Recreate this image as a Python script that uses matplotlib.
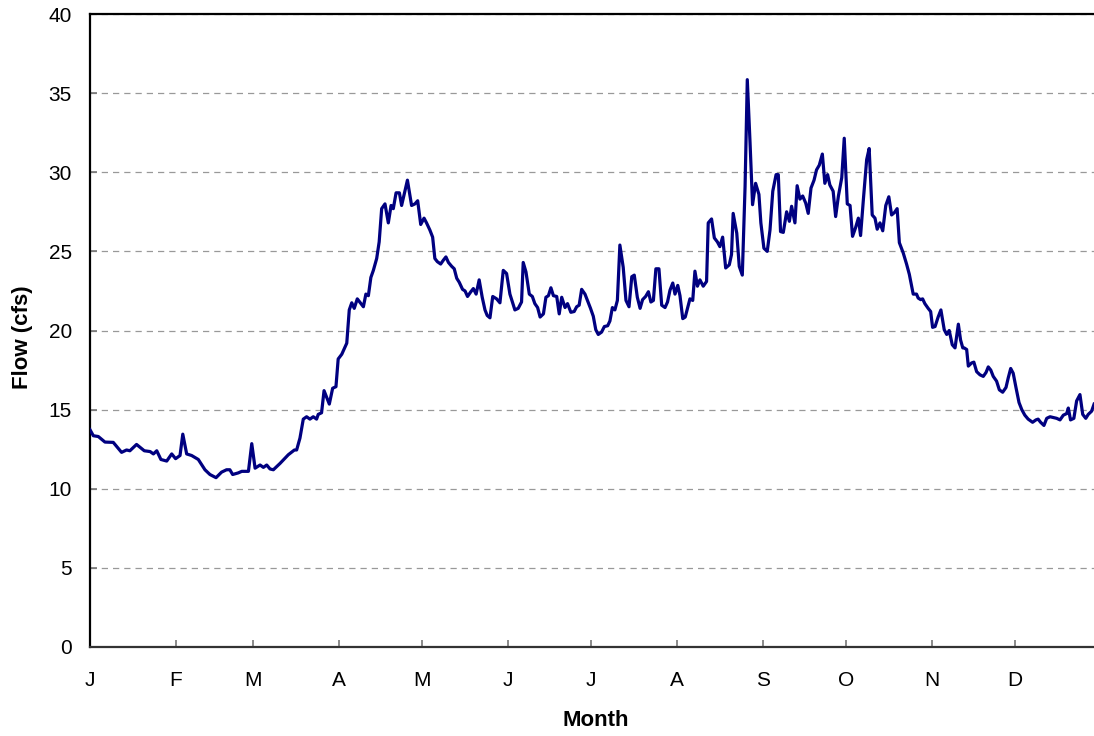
import matplotlib
matplotlib.use("Agg")
import matplotlib.pyplot as plt

# month ticks (day of year where each month starts)
month_start = [0, 31, 59, 90, 120, 151, 181, 212, 243, 273, 304, 334]
month_labels = ["J", "F", "M", "A", "M", "J", "J", "A", "S", "O", "N", "D"]

# daily flow, Jan - Mar
day_q1 = [0, 1.2, 3.0, 5.4, 8.4, 11.4, 13.2, 14.4, 16.8, 19.6, 21.7, 22.9, 24.1, 25.6, 27.7,
          29.5, 30.9, 32.5, 33.5, 34.9, 36.7, 39.1, 41.5, 43.3, 45.5, 47.5, 49.3, 50.5, 51.5,
          53.5, 54.8, 57.2, 58.4, 59.6, 61.4, 62.6, 63.8, 65, 66.2, 68.6, 71.6, 73.8, 74.6, 75.8]
flow_q1 = [13.73, 13.35, 13.3, 12.95, 12.93, 12.3, 12.45, 12.4, 12.8, 12.4, 12.35, 12.2, 12.4, 11.85, 11.75,
           12.2, 11.9, 12.1, 13.45, 12.2, 12.1, 11.85, 11.2, 10.9, 10.7, 11.05, 11.2, 11.2, 10.9,
           11.0, 11.1, 11.1, 12.85, 11.3, 11.5, 11.35, 11.5, 11.25, 11.2, 11.6, 12.15, 12.45, 12.45, 13.2]

# Mar - May
day_q2 = [77.0, 78.2, 79.4, 80.6, 81.8, 82.4, 83.6, 84.5, 86.4, 87.6, 88.8, 89.6, 90.9, 92.7, 93.6,
          94.5, 95.4, 96.5, 98.7, 99.6, 100.5, 101.4, 102.3, 103.5, 104.4, 105.3, 106.5, 107.7, 108.7,
          109.5, 110.5, 111.7, 112.5, 114.6, 116.1, 117.3, 118.3, 119.4, 120.6, 121.5, 122.7, 123.7,
          124.5, 125.4, 126.6, 127.6, 128.5, 129.4, 130.6, 131.5, 132.4, 133.3, 134.5, 135.4, 136.3,
          137.5, 138.4, 139.4, 140.5, 141.6, 142.6, 143.4, 144.4, 145.4, 146.8]
flow_q2 = [14.4, 14.55, 14.4, 14.55, 14.4, 14.7, 14.8, 16.2, 15.35, 16.35, 16.45, 18.2, 18.5, 19.2, 21.3,
           21.75, 21.4, 22.0, 21.5, 22.3, 22.2, 23.35, 23.8, 24.55, 25.6, 27.7, 28.0, 26.8, 27.9,
           27.7, 28.7, 28.7, 27.9, 29.5, 27.9, 28.0, 28.2, 26.7, 27.1, 26.8, 26.35, 25.9,
           24.55, 24.35, 24.2, 24.45, 24.65, 24.3, 24.05, 23.9, 23.3, 23.05, 22.6, 22.5, 22.15,
           22.45, 22.65, 22.3, 23.2, 22.1, 21.3, 20.95, 20.8, 22.15, 22.0]

# May - Aug
day_q3 = [148.0, 149.2, 150.4, 151.6, 153.4, 154.6, 155.8, 156.4, 157.4, 158.6, 159.7, 160.6, 161.6,
          162.5, 163.7, 164.6, 165.5, 166.4, 167.3, 168.5, 169.4, 170.3, 171.5, 172.4, 173.6, 174.8,
          175.7, 176.6, 177.5, 178.7, 179.9, 180.7, 181.7, 182.6, 183.5, 184.7, 185.7, 186.9, 187.7,
          188.6, 189.5, 190.4, 191.3, 192.5, 193.5, 194.6, 195.6, 196.5, 197.6, 198.6, 199.5, 200.6,
          201.6, 202.5, 203.4, 204.3, 205.4, 206.4, 207.6, 208.5, 209.4, 210.4, 211.2, 212.2, 213.0,
          214.0, 214.9]
flow_q3 = [21.75, 23.8, 23.6, 22.3, 21.3, 21.4, 21.8, 24.3, 23.7, 22.3, 22.15, 21.7, 21.45,
           20.85, 21.05, 22.1, 22.2, 22.7, 22.2, 22.15, 21.05, 22.1, 21.45, 21.7, 21.15, 21.2,
           21.5, 21.6, 22.6, 22.3, 21.75, 21.4, 20.9, 20.05, 19.75, 19.9, 20.25, 20.3, 20.6,
           21.45, 21.3, 21.9, 25.4, 24.0, 21.9, 21.5, 23.4, 23.5, 22.1, 21.4, 21.95, 22.15,
           22.45, 21.8, 21.9, 23.9, 23.9, 21.6, 21.45, 21.8, 22.55, 23.0, 22.3, 22.85, 22.2,
           20.75, 20.85]

# Aug - Oct
day_q4 = [216.6, 217.6, 218.4, 219.3, 220.2, 221.4, 222.6, 223.2, 224.4, 225.4, 226.5, 227.4, 228.4,
          229.5, 230.8, 231.6, 232.2, 233.5, 234.4, 235.5, 236.5, 237.3, 238.3, 239.2, 240.3, 241.5,
          242.2, 243.3, 244.5, 245.5, 246.5, 247.7, 248.5, 249.3, 250.3, 251.5, 252.5, 253.3, 254.5,
          255.3, 256.3, 257.3, 258.4, 259.3, 260.3, 261.4, 262.3, 263.3, 264.4, 265.3, 266.3, 267.1,
          268.3, 269.2, 270.2, 271.4, 272.3, 273.4, 274.4, 275.3, 276.4, 277.4, 278.2, 279.2, 280.4,
          281.3, 282.4, 283.4, 284.2, 285.2, 286.2, 287.3, 288.4, 289.4, 290.4, 291.4, 292.2, 293.6]
flow_q4 = [22.0, 21.9, 23.75, 22.8, 23.2, 22.8, 23.1, 26.8, 27.05, 25.85, 25.6, 25.3, 25.9,
           23.95, 24.15, 24.8, 27.4, 26.15, 24.05, 23.5, 29.1, 35.85, 31.85, 27.95, 29.3, 28.6,
           26.8, 25.2, 25.0, 26.35, 28.8, 29.85, 29.85, 26.25, 26.2, 27.5, 26.9, 27.85, 26.8,
           29.15, 28.3, 28.5, 28.05, 27.4, 29.0, 29.5, 30.15, 30.45, 31.15, 29.3, 29.85, 29.2,
           28.8, 27.2, 28.5, 29.65, 32.15, 28.0, 27.9, 25.95, 26.5, 27.1, 26.0, 28.25, 30.8,
           31.5, 27.3, 27.1, 26.4, 26.8, 26.3, 27.9, 28.45, 27.3, 27.45, 27.7, 25.55, 24.9]

# Oct - Dec
day_q5 = [294.8, 295.8, 296.6, 297.2, 298.4, 299.0, 299.9, 300.6, 301.4, 302.6, 303.5, 304.2, 305.1,
          306.2, 307.2, 308.4, 309.3, 310.2, 311.3, 312.3, 313.5, 314.3, 315.1, 315.6, 316.5, 317.1,
          318.3, 319.1, 320.1, 321.3, 322.5, 323.5, 324.3, 325.2, 326.1, 327.3, 328.3, 329.5, 330.7,
          331.5, 332.4, 333.3, 334.3, 335.4, 336.4, 337.5, 338.7, 340.3, 341.5, 342.3, 343.2, 344.4,
          345.4, 346.6, 347.8, 349.0, 350.2, 351.4, 352.6, 353.2, 354.0, 355.2, 356.2, 357.4, 358.4,
          359.5, 360.4, 361.6, 362.5]
flow_q5 = [24.2, 23.55, 22.85, 22.3, 22.3, 22.05, 21.95, 22.0, 21.7, 21.4, 21.2, 20.2, 20.25,
           20.85, 21.3, 20.05, 19.75, 20.0, 19.1, 18.9, 20.4, 19.4, 18.9, 18.9, 18.8, 17.75,
           17.95, 18.0, 17.4, 17.2, 17.1, 17.35, 17.7, 17.5, 17.1, 16.8, 16.25, 16.1, 16.4,
           17.0, 17.6, 17.3, 16.4, 15.45, 15.0, 14.65, 14.4, 14.2, 14.35, 14.4, 14.2, 14.0,
           14.45, 14.55, 14.5, 14.45, 14.35, 14.65, 14.75, 15.1, 14.35, 14.45, 15.55, 15.95, 14.7,
           14.45, 14.7, 14.9, 15.35]

days = day_q1 + day_q2 + day_q3 + day_q4 + day_q5
flow = flow_q1 + flow_q2 + flow_q3 + flow_q4 + flow_q5

plt.rcParams['font.family'] = ['Liberation Sans', 'DejaVu Sans']

fig = plt.figure(figsize=(10.94, 7.36), dpi=100)
# axis runs a little past the right edge of the picture (cropped original)
ax = fig.add_axes([90 / 1094, 89 / 736, 1011 / 1094, 633 / 736])

ax.plot(days, flow, color='#000080', linewidth=2.3, zorder=3)

ax.set_xlim(0, 365)
ax.set_ylim(0, 40)
ax.set_yticks(range(0, 41, 5))
ax.set_xticks(month_start)
ax.set_xticklabels(month_labels)

ax.yaxis.grid(True, linestyle=(0, (5, 4)), color='#999999', linewidth=0.9)
ax.set_axisbelow(True)

ax.spines['right'].set_visible(False)
ax.spines['left'].set_color('black')
ax.spines['left'].set_linewidth(1.6)
ax.spines['top'].set_color('black')
ax.spines['top'].set_linewidth(1.6)
ax.spines['bottom'].set_color('#333333')
ax.spines['bottom'].set_linewidth(1.6)

ax.tick_params(axis='x', direction='in', length=5, width=1.2, color='#777777',
               labelsize=15, pad=17)
ax.tick_params(axis='y', direction='in', length=5, width=1.2, color='#777777',
               labelsize=15, pad=13)

ax.set_xlabel('Month', fontsize=16, fontweight='bold')
ax.set_ylabel('Flow (cfs)', fontsize=16, fontweight='bold')
ax.xaxis.set_label_coords(0.5, -0.099)
ax.yaxis.set_label_coords(-0.056, 0.49)

fig.savefig('out.png', dpi=100)
